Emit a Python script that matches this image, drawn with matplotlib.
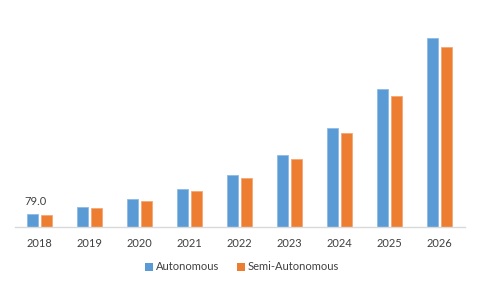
import matplotlib
matplotlib.use("Agg")
import matplotlib.pyplot as plt
import numpy as np
from matplotlib.patches import Patch

years = ["2018", "2019", "2020", "2021", "2022", "2023", "2024", "2025", "2026"]
autonomous = [79.0, 124, 176, 241, 333, 463, 641, 890, 1225]
semi_autonomous = [72.5, 118, 163, 228, 314, 437, 609, 845, 1166]

blue = "#5B9BD5"
orange = "#ED7D31"
text_color = "#404040"

plt.rcParams['font.family'] = ['Lato', 'DejaVu Sans']

fig = plt.figure(figsize=(4.79, 2.87), dpi=100)
ax = fig.add_axes([14.5 / 479, (287 - 226.6) / 287, 450 / 479, 216 / 287])

x = np.arange(len(years))
w = 0.22
off = 0.145
ax.bar(x - off, autonomous, w, color=blue, edgecolor="#8DBCE6", linewidth=0.6)
ax.bar(x + off, semi_autonomous, w, color=orange, edgecolor="#F4A774", linewidth=0.6)

ax.set_xlim(-0.5, len(years) - 0.5)
ax.set_ylim(0, 1400)
ax.set_xticks(x)
ax.set_xticklabels(years, fontsize=8, color=text_color)
ax.tick_params(axis='x', length=0, pad=8)
ax.set_yticks([])
for s in ["top", "right", "left"]:
    ax.spines[s].set_visible(False)
ax.spines["bottom"].set_color("#D9D9D9")
ax.spines["bottom"].set_linewidth(1.0)

ax.annotate(f"{autonomous[0]:.1f}", (x[0] - off, autonomous[0]), xytext=(2, 5),
            textcoords="offset points", ha="center", va="bottom",
            fontsize=8, color=text_color)

handles = [Patch(facecolor=blue, label="Autonomous"),
           Patch(facecolor=orange, label="Semi-Autonomous")]
fig.legend(handles=handles, loc="center", bbox_to_anchor=(242 / 479, 1 - 267 / 287),
           ncol=2, frameon=False, fontsize=8, handlelength=0.7, handleheight=0.7,
           handletextpad=0.3, columnspacing=1.6, labelcolor=text_color)

fig.savefig("out.png", dpi=100, facecolor="white")
